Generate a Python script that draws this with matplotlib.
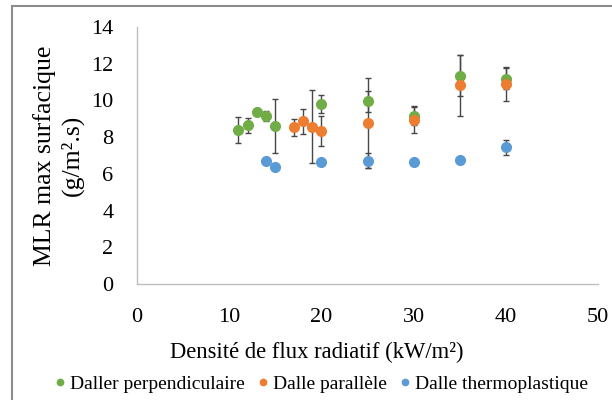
import matplotlib
matplotlib.use("Agg")
import matplotlib.pyplot as plt
from matplotlib.patches import Rectangle

plt.rcParams['font.family'] = ['Liberation Serif', 'DejaVu Serif']

# Daller perpendiculaire
x_perp = [11, 12, 13, 14, 15, 20, 25, 30, 35, 40]
y_perp = [8.39, 8.66, 9.38, 9.15, 8.59, 9.82, 9.95, 9.15, 11.35, 11.18]
e_perp = [0.71, 0.41, 0.10, 0.28, 1.47, 0.49, 0.58, 0.50, 1.12, 0.58]

# Dalle parallèle
x_para = [17, 18, 19, 20, 25, 30, 35, 40]
y_para = [8.53, 8.86, 8.57, 8.32, 8.75, 8.95, 10.82, 10.89]
e_para = [0.46, 0.70, 2.00, 0.82, 2.45, 0.74, 1.67, 0.91]

# Dalle thermoplastique
x_thermo = [14, 15, 20, 25, 30, 35, 40]
y_thermo = [6.72, 6.36, 6.66, 6.72, 6.66, 6.77, 7.45]
e_thermo = [0, 0, 0, 0.40, 0, 0, 0.40]

series = [
    (x_perp, y_perp, e_perp, '#70AD47', 'Daller perpendiculaire'),
    (x_para, y_para, e_para, '#ED7D31', 'Dalle parallèle'),
    (x_thermo, y_thermo, e_thermo, '#5B9BD5', 'Dalle thermoplastique'),
]

fig = plt.figure(figsize=(6.12, 4.0), dpi=100)
ax = fig.add_axes([137 / 612, 1 - 284 / 400, (598 - 137) / 612, (284 - 27) / 400])

for xs, ys, es, col, lab in series:
    ax.errorbar(xs, ys, yerr=es, fmt='none', ecolor='#474747', elinewidth=1.0,
                capsize=2, capthick=1.0, zorder=2)
    ax.plot(xs, ys, 'o', color=col, markersize=7, label=lab, zorder=3)

ax.set_xlim(0, 50)
ax.set_ylim(0, 14)
ax.set_xticks(range(0, 51, 10))
ax.set_yticks(range(0, 15, 2))
ax.tick_params(length=0, labelsize=16)
ax.tick_params(axis='x', pad=17)
ax.tick_params(axis='y', pad=17)
for s in ['top', 'right']:
    ax.spines[s].set_visible(False)
for s in ['left', 'bottom']:
    ax.spines[s].set_color('#BFBFBF')
    ax.spines[s].set_linewidth(1.0)

ax.set_xlabel('Densité de flux radiatif (kW/m²)', fontsize=16.3, labelpad=4)
ax.xaxis.set_label_coords(0.39, -0.225)
ax.set_ylabel('MLR max surfacique\n(g/m².s)', fontsize=18.5, labelpad=5,
              linespacing=1.25)

ax.legend(loc='center', bbox_to_anchor=(0.395, -0.389), ncol=3, frameon=False,
          fontsize=14, handletextpad=0.0, columnspacing=0.45, markerscale=0.65,
          handlelength=1.0, borderaxespad=0)

fig.patches.append(Rectangle((12 / 612, -0.1), 1.2, 1.1 - 6 / 400, transform=fig.transFigure,
                             fill=False, edgecolor='#8C8C8C', linewidth=1.5))

fig.savefig('out.png', dpi=100)
